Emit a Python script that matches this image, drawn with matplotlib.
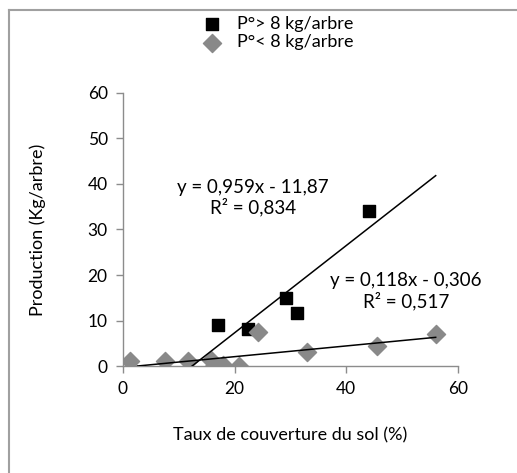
import numpy as np
import matplotlib.pyplot as plt
from matplotlib.lines import Line2D

plt.rcParams['font.family'] = ['Lato', 'DejaVu Sans']

# P° > 8 kg/arbre
x_high = [17.1, 22.3, 29.2, 31.2, 44.0]
y_high = [9.0, 8.2, 15.0, 11.7, 34.1]
# P° < 8 kg/arbre
x_low = [1.3, 7.5, 11.7, 15.8, 16.3, 18.0, 20.7, 24.2, 33.0, 45.5, 56.0]
y_low = [1.1, 1.1, 1.0, 1.3, 0.0, 0.2, 0.1, 7.4, 3.1, 4.4, 7.1]

# trend lines (Excel)
a_high, b_high = 0.959, -11.87
a_low, b_low = 0.118, -0.306
trend_x_max = 56.0

GRAY = '#898989'
AXIS = '#8c8c8c'

fig = plt.figure(figsize=(5.17, 4.73), dpi=100)
ax = fig.add_axes([0.2379, 0.2262, 0.648, 0.5772])

ax.scatter(x_high, y_high, marker='s', s=75, color='black', zorder=3,
           label='P°> 8 kg/arbre')
ax.scatter(x_low, y_low, marker='D', s=85, color=GRAY, zorder=3,
           label='P°< 8 kg/arbre')

# trend lines, clipped at y = 0
x0_high = -b_high / a_high
xs = np.array([x0_high, trend_x_max])
ax.plot(xs, a_high * xs + b_high, color='black', lw=1.1, zorder=4)
x0_low = -b_low / a_low
xs = np.array([x0_low, trend_x_max])
ax.plot(xs, a_low * xs + b_low, color='black', lw=1.1, zorder=4)

ax.text(23.3, 37.0, 'y = 0,959x - 11,87\nR² = 0,834', ha='center', va='center',
        fontsize=13.5, linespacing=1.15)
ax.text(50.7, 16.4, 'y = 0,118x - 0,306\nR² = 0,517', ha='center', va='center',
        fontsize=13.5, linespacing=1.15)

ax.set_xlim(0, 60)
ax.set_ylim(0, 60)
ax.set_xticks([0, 20, 40, 60])
ax.set_yticks([0, 10, 20, 30, 40, 50, 60])
for s in ['top', 'right']:
    ax.spines[s].set_visible(False)
for s in ['left', 'bottom']:
    ax.spines[s].set_color(AXIS)
    ax.spines[s].set_linewidth(1.0)
ax.tick_params(direction='out', length=5, width=1.0, color=AXIS,
               labelsize=12.5, pad=6)
ax.set_xlabel('Taux de couverture du sol (%)', fontsize=13)
ax.set_ylabel('Production (Kg/arbre)', fontsize=13)
ax.xaxis.set_label_coords(0.5, -0.225)
ax.yaxis.set_label_coords(-0.23, 0.5)

handles, labels = ax.get_legend_handles_labels()
fig.legend(handles, labels, loc='center', bbox_to_anchor=(0.536, 0.930),
           frameon=False, fontsize=13, handletextpad=0.8, labelspacing=0.15,
           handlelength=1.2, borderpad=0)

# chart frame (top and left edges visible in the crop)
fig.add_artist(Line2D([0.018, 0.998], [0.979, 0.979], color='#a0a0a0', lw=1.5,
                      transform=fig.transFigure))
fig.add_artist(Line2D([0.018, 0.018], [0.0, 0.979], color='#a0a0a0', lw=1.5,
                      transform=fig.transFigure))

fig.savefig('out.png', dpi=100)
